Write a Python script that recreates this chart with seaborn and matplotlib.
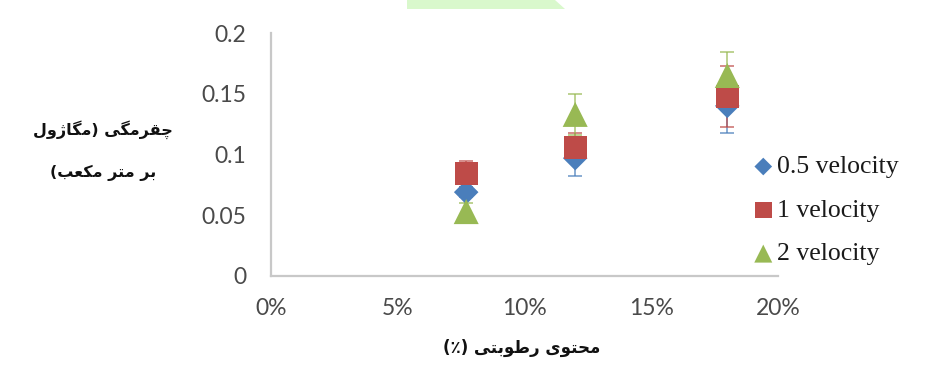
import matplotlib
matplotlib.use("Agg")
import matplotlib.pyplot as plt
from matplotlib.patches import Polygon
from matplotlib.ticker import FuncFormatter, MultipleLocator
import seaborn as sns
import pandas as pd

# Moisture content (%) and toughness (MJ/m^3) per loading velocity
moisture = [7.7, 12.0, 18.0]
series_names = ["0.5 velocity", "1 velocity", "2 velocity"]
tough_05 = [0.069, 0.097, 0.140]
err_05 = [0.004, 0.015, 0.022]
tough_1 = [0.084, 0.106, 0.148]
err_1 = [0.011, 0.012, 0.025]
tough_2 = [0.053, 0.133, 0.165]
err_2 = [0.007, 0.017, 0.019]

y_label_lines = ["چقرمگی (مگاژول", "بر متر مکعب)"]
x_label = "محتوی رطوبتی (٪)"

# Contextual forms: (isolated, final, initial, medial)
FORMS = {
    "ا": ("\uFE8D", "\uFE8E", None, None),
    "ب": ("\uFE8F", "\uFE90", "\uFE91", "\uFE92"),
    "ت": ("\uFE95", "\uFE96", "\uFE97", "\uFE98"),
    "ح": ("\uFEA1", "\uFEA2", "\uFEA3", "\uFEA4"),
    "ر": ("\uFEAD", "\uFEAE", None, None),
    "ژ": ("\uFB8A", "\uFB8B", None, None),
    "ط": ("\uFEC1", "\uFEC2", "\uFEC3", "\uFEC4"),
    "ع": ("\uFEC9", "\uFECA", "\uFECB", "\uFECC"),
    "ق": ("\uFED5", "\uFED6", "\uFED7", "\uFED8"),
    "ل": ("\uFEDD", "\uFEDE", "\uFEDF", "\uFEE0"),
    "م": ("\uFEE1", "\uFEE2", "\uFEE3", "\uFEE4"),
    "و": ("\uFEED", "\uFEEE", None, None),
    "چ": ("\uFB7A", "\uFB7B", "\uFB7C", "\uFB7D"),
    "ک": ("\uFB8E", "\uFB8F", "\uFB90", "\uFB91"),
    "گ": ("\uFB92", "\uFB93", "\uFB94", "\uFB95"),
    "ی": ("\uFBFC", "\uFBFD", "\uFBFE", "\uFBFF"),
}


def rtl(text):
    """Join Persian letters and lay the line out right-to-left."""
    out = []
    for i, ch in enumerate(text):
        if ch not in FORMS:
            out.append(ch)
            continue
        prev = text[i - 1] if i > 0 else None
        nxt = text[i + 1] if i + 1 < len(text) else None
        f = FORMS[ch]
        joins_prev = prev in FORMS and FORMS[prev][2] is not None
        joins_next = f[2] is not None and nxt in FORMS
        if joins_prev and joins_next:
            out.append(f[3])
        elif joins_prev:
            out.append(f[1])
        elif joins_next:
            out.append(f[2])
        else:
            out.append(f[0])
    vis = "".join(reversed(out))
    return vis.translate(str.maketrans("()", ")("))


sns.set_theme(style="white")
plt.rcParams["font.family"] = ["Lato", "DejaVu Sans"]

W, H = 941, 366
fig = plt.figure(figsize=(W / 100, H / 100), dpi=100)
ax = fig.add_axes([271 / W, 1 - 276 / H, (778 - 271) / W, (276 - 33) / H])

colors = ["#4a7ebb", "#be4b48", "#98b954"]
markers = ["D", "s", "^"]
sizes = [12.5, 16.5, 18]
values = [tough_05, tough_1, tough_2]
errors = [err_05, err_1, err_2]

for name, vals, errs, col, mk, sz in zip(series_names, values, errors, colors, markers, sizes):
    df = pd.DataFrame({"moisture": moisture, "toughness": vals})
    ax.errorbar(moisture, vals, yerr=errs, fmt="none", ecolor=col,
                elinewidth=1.2, capsize=5, capthick=1.2, alpha=0.75, zorder=2)
    sns.scatterplot(data=df, x="moisture", y="toughness", ax=ax, marker=mk,
                    s=sz ** 2, color=col, edgecolor="none", label=name,
                    zorder=3, legend=True)

ax.set_xlim(0, 20)
ax.set_ylim(0, 0.2)
ax.xaxis.set_major_locator(MultipleLocator(5))
ax.yaxis.set_major_locator(MultipleLocator(0.05))
ax.xaxis.set_major_formatter(FuncFormatter(lambda v, p: f"{v:.0f}%"))
ax.yaxis.set_major_formatter(FuncFormatter(lambda v, p: "0" if v == 0 else f"{v:g}"))
ax.set_xlabel("")
ax.set_ylabel("")

for side in ["top", "right"]:
    ax.spines[side].set_visible(False)
for side in ["left", "bottom"]:
    ax.spines[side].set_color("#c8c8c8")
    ax.spines[side].set_linewidth(1.6)

ax.tick_params(axis="both", which="major", colors="#c8c8c8", labelcolor="#4a4a4a",
               labelsize=16.5, length=5, width=1.2, direction="out")
ax.tick_params(axis="y", pad=13)
ax.tick_params(axis="x", length=4, pad=12)

leg = ax.legend(frameon=False, loc="upper left",
                bbox_to_anchor=(735 / W, 1 - 145 / H), bbox_transform=fig.transFigure,
                prop={"family": "Liberation Serif", "size": 18.5},
                handletextpad=-0.15, handlelength=1.4, labelspacing=0.8,
                borderaxespad=0, markerscale=0.72)
for t in leg.get_texts():
    t.set_color("#1a1a1a")

# Persian axis titles
fa_font = dict(family=["DejaVu Sans"], fontweight="bold", color="#111111",
               ha="center", va="center")
fig.text(103 / W, 1 - 130 / H, rtl(y_label_lines[0]), fontsize=11.5, **fa_font)
fig.text(103 / W, 1 - 173 / H, rtl(y_label_lines[1]), fontsize=11.5, **fa_font)
fig.text(522 / W, 1 - 348 / H, rtl(x_label), fontsize=12, **fa_font)

# Light green band at the top edge
band = Polygon([(407 / W, 1.0), (555 / W, 1.0), (565 / W, 1 - 9 / H), (407 / W, 1 - 9 / H)],
               closed=True, transform=fig.transFigure, facecolor="#d9f8cc",
               edgecolor="none")
fig.patches.append(band)

fig.savefig("out.png", dpi=100)
